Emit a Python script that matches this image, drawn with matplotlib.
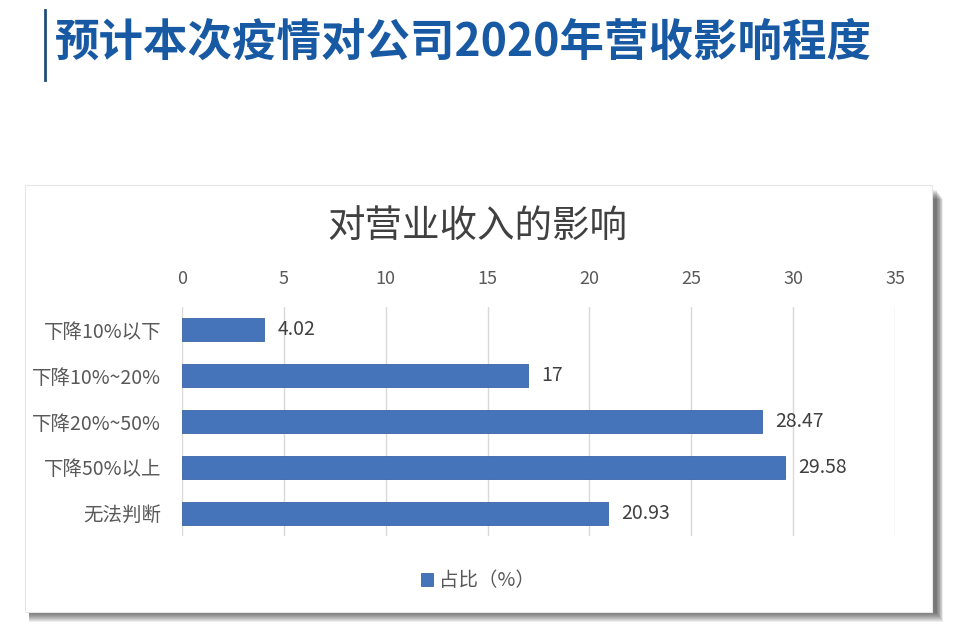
import matplotlib
matplotlib.use("Agg")
import matplotlib.pyplot as plt
from matplotlib.patches import Rectangle
from matplotlib.lines import Line2D

plt.rcParams['font.family'] = ['Noto Sans CJK SC', 'DejaVu Sans']

# Data
categories = ["下降10%以下", "下降10%~20%", "下降20%~50%", "下降50%以上", "无法判断"]
values = [4.02, 17, 28.47, 29.58, 20.93]
value_labels = ["4.02", "17", "28.47", "29.58", "20.93"]
x_ticks = [0, 5, 10, 15, 20, 25, 30, 35]
page_title = "预计本次疫情对公司2020年营收影响程度"
chart_title = "对营业收入的影响"
series_name = "占比（%）"

W, H = 957, 643
fig = plt.figure(figsize=(W / 100, H / 100), dpi=100)
fig.patch.set_facecolor("white")


def fx(x):
    return x / W


def fy(y):
    return 1 - y / H


# Page title with the small vertical bar on its left
fig.add_artist(Line2D([fx(45), fx(45)], [fy(10), fy(80)], color="#1f4e79", lw=2))
fig.text(fx(55), fy(43), page_title, fontsize=32, fontweight="bold",
         color="#1759a3", ha="left", va="center")

# Card with a soft shadow (heavier at the bottom)
card_l, card_t, card_r, card_b = 25, 185, 932, 612
for i in range(10, 0, -1):
    fig.add_artist(Rectangle((fx(card_l + 4), fy(card_b + i)),
                             fx(card_r - card_l + i * 0.7), (card_b - card_t - 4) / H,
                             transform=fig.transFigure, facecolor="#000000",
                             alpha=0.07, edgecolor="none", zorder=0))
fig.add_artist(Rectangle((fx(card_l), fy(card_b)), fx(card_r - card_l),
                         (card_b - card_t) / H, transform=fig.transFigure,
                         facecolor="white", edgecolor="#e6e6e6", lw=0.8, zorder=0.5))

fig.text(fx(477), fy(227), chart_title, fontsize=27, color="#404040",
         ha="center", va="center", zorder=3)

# Plot area
ax_l, ax_r, ax_t, ax_b = 182, 895, 307, 536
ax = fig.add_axes([fx(ax_l), fy(ax_b), fx(ax_r - ax_l), (ax_b - ax_t) / H])
ax.set_facecolor("none")
ax.set_zorder(2)

ypos = list(range(len(categories)))
bars = ax.barh(ypos, values, height=0.5, color="#4674ba", edgecolor="#3a64a6",
               lw=0.6, zorder=3, label=series_name)
for b, lab in zip(bars, value_labels):
    ax.text(b.get_width() + 0.65, b.get_y() + b.get_height() / 2, lab,
            fontsize=14, color="#404040", va="center", ha="left")

ax.set_xlim(0, 35)
ax.set_ylim(len(categories) - 0.5, -0.5)
ax.set_xticks(x_ticks)
ax.set_xticklabels([str(t) for t in x_ticks])
ax.xaxis.tick_top()
ax.set_yticks(ypos)
ax.set_yticklabels(categories)
ax.tick_params(axis="x", length=0, pad=14, labelsize=13, labelcolor="#595959")
ax.tick_params(axis="y", length=0, pad=15, labelsize=14, labelcolor="#595959")
ax.grid(axis="x", color="#d9d9d9", lw=1, zorder=0)
for s in ax.spines.values():
    s.set_visible(False)

leg = fig.legend(handles=[bars], labels=[series_name], loc="center",
                 bbox_to_anchor=(fx(478), fy(581)), frameon=False, fontsize=14,
                 handlelength=0.6, handleheight=0.6, handletextpad=0.3)
for t in leg.get_texts():
    t.set_color("#595959")

fig.savefig("out.png", dpi=100, facecolor="white")
